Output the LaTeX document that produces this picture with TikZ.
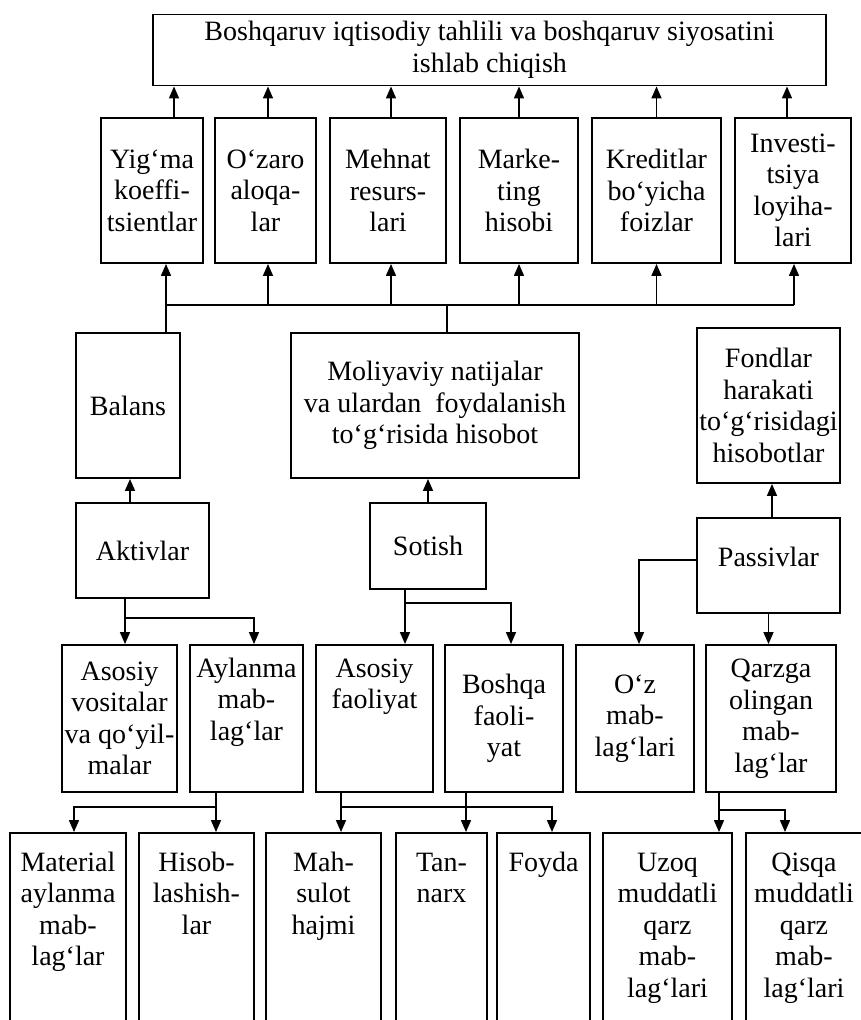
\documentclass[tikz,border=0pt]{standalone}
\usepackage{fontspec}
\setmainfont{Liberation Serif}
\usepackage{tikz}
\usetikzlibrary{positioning, arrows.meta}
\tikzstyle{blockNode}=[draw, rectangle, line width=1.9pt, align=center, inner sep=0pt, font=\fontsize{28}{31.5}\selectfont]
\tikzstyle{linkLine}=[line width=1.6pt]
\tikzstyle{linkArrow}=[-{Triangle[length=12pt,width=10pt]}, line width=1.6pt]
\newcommand{\topText}[4]{\parbox[t][#1][t]{#2}{\centering\vspace{#3}\strut #4}}

\begin{document}
\begin{tikzpicture}[x=1pt, y=-1pt]
    \useasboundingbox (0,0) rectangle (861,1020);
    \clip (0,0) rectangle (861,1020);

    \node[blockNode, minimum width=673pt, minimum height=71pt] (plan) at (489.5,50) {Boshqaruv iqtisodiy tahlili va boshqaruv siyosatini\\ishlab chiqish};

    \node[blockNode, minimum width=102pt, minimum height=145pt] (yigma) at (152,190.5) {Yig‘ma\\koeffi-\\tsientlar};
    \node[blockNode, minimum width=101pt, minimum height=145pt] (ozaro) at (265.5,190.5) {O‘zaro\\aloqa-\\lar};
    \node[blockNode, minimum width=116pt, minimum height=145pt] (mehnat) at (388,190.5) {Mehnat\\resurs-\\lari};
    \node[blockNode, minimum width=118pt, minimum height=145pt] (marketing) at (519,190.5) {Marke-\\ting\\hisobi};
    \node[blockNode, minimum width=129pt, minimum height=145pt] (kredit) at (656.5,190.5) {Kreditlar\\bo‘yicha\\foizlar};
    \node[blockNode, minimum width=116pt, minimum height=145pt] (invest) at (793,190.5) {Investi-\\tsiya\\loyiha-\\lari};

    \node[blockNode, minimum width=104pt, minimum height=145pt] (balans) at (128,405.5) {Balans};
    \node[blockNode, minimum width=288pt, minimum height=145pt] (moliya) at (435,405.5) {Moliyaviy natijalar\\va ulardan\ \ foydalanish\\to‘g‘risida hisobot};
    \node[blockNode, minimum width=143pt, minimum height=155pt] (fondlar) at (768.5,405.5) {Fondlar\\harakati\\to‘g‘risidagi\\hisobotlar};

    \node[blockNode, minimum width=133pt, minimum height=95pt] (aktiv) at (142.5,550.5) {Aktivlar};
    \node[blockNode, minimum width=116pt, minimum height=86pt] (sotish) at (428,546) {Sotish};
    \node[blockNode, minimum width=143pt, minimum height=95pt] (passiv) at (768.5,565.5) {Passivlar\\[-14pt]};

    \node[blockNode, minimum width=115pt, minimum height=147pt] (asVos) at (119.5,718.5) {Asosiy\\vositalar\\va qo‘yil-\\malar};
    \node[blockNode] (aylanma) at (246.5,718.5) {\topText{147pt}{113pt}{10pt}{Aylanma\\mab-\\lag‘lar}};
    \node[blockNode] (asFaol) at (374.5,718.5) {\topText{147pt}{117pt}{10pt}{Asosiy\\faoliyat}};
    \node[blockNode, minimum width=118pt, minimum height=147pt] (boshqa) at (504,718.5) {Boshqa\\faoli-\\yat};
    \node[blockNode, minimum width=118pt, minimum height=147pt] (oz) at (635,718.5) {O‘z\\mab-\\lag‘lari};
    \node[blockNode, minimum width=130pt, minimum height=147pt] (qarz) at (771,718.5) {Qarzga\\olingan\\mab-\\lag‘lar};

    \node[blockNode] (material) at (68,934) {\topText{202pt}{116pt}{16pt}{Material\\aylanma\\mab-\\lag‘lar}};
    \node[blockNode] (hisob) at (196.5,934) {\topText{202pt}{115pt}{16pt}{Hisob-\\lashish-\\lar}};
    \node[blockNode] (mahsulot) at (323.5,934) {\topText{202pt}{115pt}{16pt}{Mah-\\sulot\\hajmi}};
    \node[blockNode] (tannarx) at (441.5,934) {\topText{202pt}{91pt}{16pt}{Tan-\\narx}};
    \node[blockNode] (foyda) at (543.5,934) {\topText{202pt}{93pt}{16pt}{Foyda}};
    \node[blockNode] (uzoq) at (667.5,934) {\topText{202pt}{129pt}{16pt}{Uzoq\\muddatli\\qarz\\mab-\\lag‘lari}};
    \node[blockNode] (qisqa) at (804,934) {\topText{202pt}{116pt}{16pt}{Qisqa\\muddatli\\qarz\\mab-\\lag‘lari}};

    \draw[linkArrow] ([xshift=22pt]yigma.north) -- ([xshift=22pt]yigma.north |- plan.south);
    \draw[linkArrow] ([xshift=2.5pt]ozaro.north) -- ([xshift=2.5pt]ozaro.north |- plan.south);
    \draw[linkArrow] ([xshift=3pt]mehnat.north) -- ([xshift=3pt]mehnat.north |- plan.south);
    \draw[linkArrow] (marketing.north) -- (marketing.north |- plan.south);
    \draw[linkArrow] (kredit.north) -- (kredit.north |- plan.south);
    \draw[linkArrow] ([xshift=-6pt]invest.north) -- ([xshift=-6pt]invest.north |- plan.south);

    \coordinate (busL) at (166,305);
    \coordinate (busR) at (794,305);
    \draw[linkLine] (busL) -- (busR);
    \draw[linkLine] (busL) -- (busL |- balans.north);
    \draw[linkLine] ([xshift=12pt]moliya.north |- busL) -- ([xshift=12pt]moliya.north);
    \draw[linkArrow] ([xshift=14pt]yigma.south |- busL) -- ([xshift=14pt]yigma.south);
    \draw[linkArrow] ([xshift=2.5pt]ozaro.south |- busL) -- ([xshift=2.5pt]ozaro.south);
    \draw[linkArrow] ([xshift=3pt]mehnat.south |- busL) -- ([xshift=3pt]mehnat.south);
    \draw[linkArrow] (marketing.south |- busL) -- (marketing.south);
    \draw[linkArrow] (kredit.south |- busL) -- (kredit.south);
    \draw[linkArrow] (busR) -- (busR |- invest.south);

    \draw[linkArrow] ([xshift=-12.5pt]aktiv.north) -- ([xshift=-12.5pt]aktiv.north |- balans.south);
    \draw[linkArrow] (sotish.north) -- (sotish.north |- moliya.south);
    \draw[linkArrow] ([xshift=3.5pt]passiv.north) -- ([xshift=3.5pt]passiv.north |- fondlar.south);

    \coordinate (aktivJoin) at (125,618);
    \draw[linkArrow] (aktivJoin |- aktiv.south) -- (aktivJoin |- asVos.north);
    \draw[linkArrow] (aktivJoin) -| ([xshift=7.5pt]aylanma.north);
    \coordinate (sotishJoin) at (405,603);
    \draw[linkArrow] (sotishJoin |- sotish.south) -- (sotishJoin |- asFaol.north);
    \draw[linkArrow] (sotishJoin) -| ([xshift=7pt]boshqa.north);
    \draw[linkArrow] ([yshift=5.5pt]passiv.west) -| ([xshift=4pt]oz.north);
    \draw[linkArrow] (passiv.south) -- (passiv.south |- qarz.north);

    \coordinate (aylJoin) at (216,807);
    \draw[linkArrow] (aylJoin |- aylanma.south) -- (aylJoin |- hisob.north);
    \draw[linkArrow] (aylJoin) -| ([xshift=6pt]material.north);
    \coordinate (faolJoin) at (341,807);
    \draw[linkArrow] (faolJoin |- asFaol.south) -- (faolJoin |- mahsulot.north);
    \draw[linkArrow] (faolJoin) -| ([xshift=8.5pt]foyda.north);
    \draw[linkArrow] ([xshift=-38pt]boshqa.south) -- ([xshift=-38pt]boshqa.south |- tannarx.north);
    \coordinate (qarzJoin) at (719,810);
    \draw[linkArrow] (qarzJoin |- qarz.south) -- (qarzJoin |- uzoq.north);
    \draw[linkArrow] (qarzJoin) -| ([xshift=-19pt]qisqa.north);

  \end{tikzpicture}
\end{document}
